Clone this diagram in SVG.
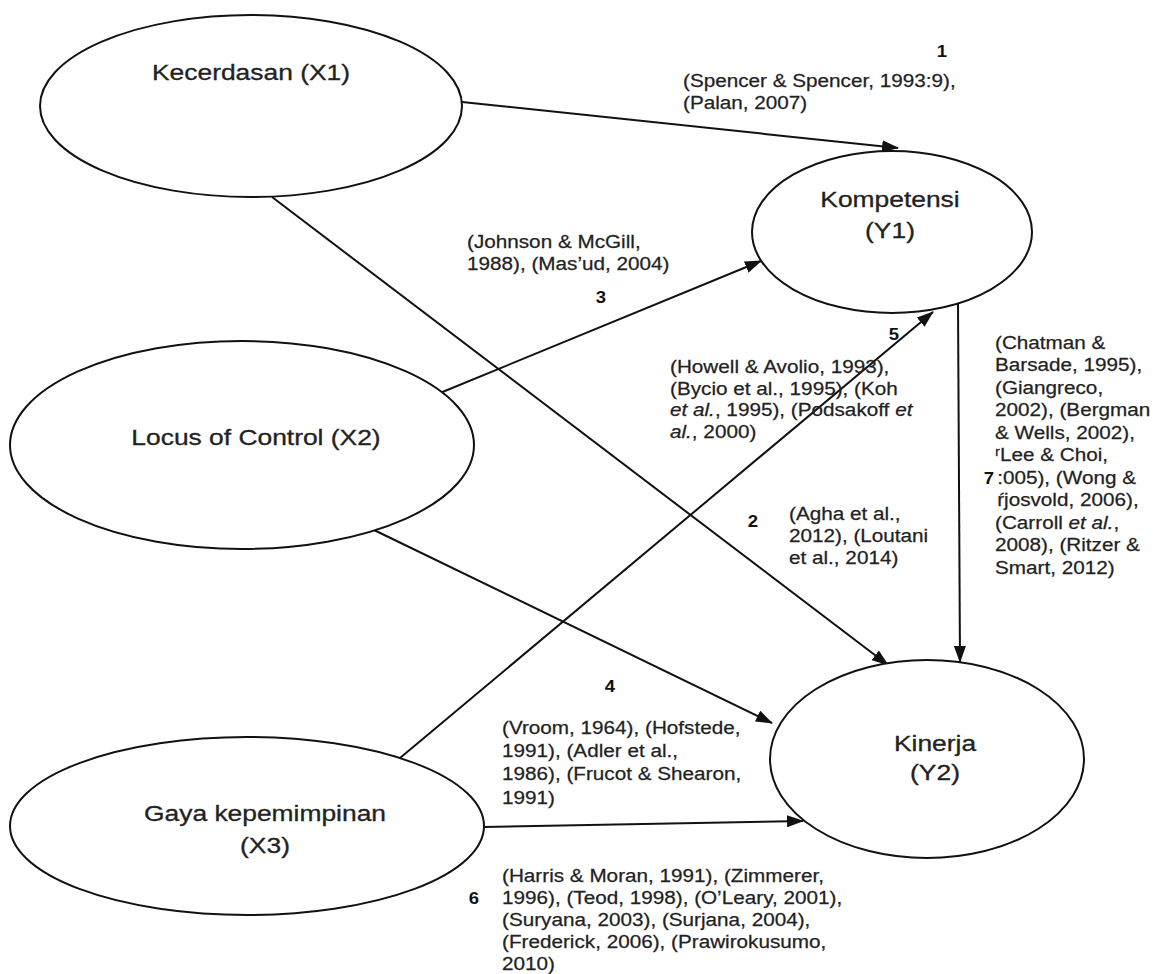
<svg xmlns="http://www.w3.org/2000/svg" width="1154" height="974" viewBox="0 0 1154 974">
<defs>
<style>
.node{fill:#fff;stroke:#111;stroke-width:2}
.lbl{font-family:"Liberation Sans",Arial,sans-serif;font-size:22px;fill:#222;stroke:#222;stroke-width:0.3}
.cit{font-family:"Liberation Sans",Arial,sans-serif;font-size:19px;fill:#222;stroke:#222;stroke-width:0.25}
.num{font-family:"Liberation Sans",Arial,sans-serif;font-size:17px;font-weight:bold;fill:#111}
.edge{stroke:#111;stroke-width:2;fill:none;marker-end:url(#ah)}
.it{font-style:italic}
</style>
<marker id="ah" markerWidth="17" markerHeight="12" refX="16" refY="6" orient="auto" markerUnits="userSpaceOnUse">
<path d="M0,0 L17,6 L0,12 z" fill="#111"/>
</marker>
</defs>
<rect width="1154" height="974" fill="#fff"/>

<g id="connectors">
<path class="edge" d="M462,102 L898,148"/>
<path class="edge" d="M272,197 L888,665"/>
<path class="edge" d="M440,393 L761,261"/>
<path class="edge" d="M374,530 L772,723"/>
<path class="edge" d="M400,758 L933,312"/>
<path class="edge" d="M484,827 L803,821"/>
<path class="edge" d="M958,304 L960,662"/>
</g>

<g id="kecerdasan">
<ellipse class="node" cx="251" cy="106" rx="211" ry="91"/>
<text class="lbl" text-anchor="middle" transform="translate(251,80) scale(1.2,1)">Kecerdasan (X1)</text>
</g>
<g id="kompetensi">
<ellipse class="node" cx="892" cy="232" rx="140" ry="81"/>
<text class="lbl" text-anchor="middle" transform="translate(890,207) scale(1.2,1)">Kompetensi</text>
<text class="lbl" text-anchor="middle" transform="translate(890,238) scale(1.2,1)">(Y1)</text>
</g>
<g id="locus">
<ellipse class="node" cx="242" cy="445" rx="232" ry="104"/>
<text class="lbl" text-anchor="middle" transform="translate(256,445) scale(1.2,1)">Locus of Control (X2)</text>
</g>
<g id="gaya">
<ellipse class="node" cx="247" cy="826" rx="237" ry="89"/>
<text class="lbl" text-anchor="middle" transform="translate(265,821) scale(1.2,1)">Gaya kepemimpinan</text>
<text class="lbl" text-anchor="middle" transform="translate(265,853) scale(1.2,1)">(X3)</text>
</g>
<g id="kinerja">
<ellipse class="node" cx="927" cy="759" rx="157" ry="99"/>
<text class="lbl" text-anchor="middle" transform="translate(935,751) scale(1.2,1)">Kinerja</text>
<text class="lbl" text-anchor="middle" transform="translate(935,780) scale(1.2,1)">(Y2)</text>
</g>

<g id="labels">
<text class="num" text-anchor="middle" transform="translate(942,57) scale(1.09,1)">1</text>
<text class="cit" transform="translate(683,87) scale(1.09,1)"><tspan x="0" y="0">(Spencer &amp; Spencer, 1993:9),</tspan><tspan x="0" y="22">(Palan, 2007)</tspan></text>

<text class="cit" transform="translate(467,248) scale(1.09,1)"><tspan x="0" y="0">(Johnson &amp; McGill,</tspan><tspan x="0" y="22">1988), (Mas’ud, 2004)</tspan></text>
<text class="num" text-anchor="middle" transform="translate(601,303) scale(1.09,1)">3</text>

<text class="num" text-anchor="middle" transform="translate(894,340) scale(1.09,1)">5</text>
<text class="cit" transform="translate(670,373) scale(1.09,1)"><tspan x="0" y="0">(Howell &amp; Avolio, 1993),</tspan><tspan x="0" y="22">(Bycio et al., 1995), (Koh</tspan><tspan x="0" y="43"><tspan class="it">et al.</tspan>, 1995), (Podsakoff <tspan class="it">et</tspan></tspan><tspan x="0" y="65"><tspan class="it">al.</tspan>, 2000)</tspan></text>

<text class="num" text-anchor="middle" transform="translate(753,527) scale(1.09,1)">2</text>
<text class="cit" transform="translate(789,520) scale(1.09,1)"><tspan x="0" y="0">(Agha et al.,</tspan><tspan x="0" y="22">2012), (Loutani</tspan><tspan x="0" y="44">et al., 2014)</tspan></text>

<text class="num" text-anchor="middle" transform="translate(989,484) scale(1.09,1)">7</text>
<text class="cit" transform="translate(995,349) scale(1.09,1)"><tspan x="0" y="0">(Chatman &amp;</tspan><tspan x="0" y="22.5">Barsade, 1995),</tspan><tspan x="0" y="45">(Giangreco,</tspan><tspan x="0" y="67.5">2002), (Bergman</tspan><tspan x="0" y="90">&amp; Wells, 2002),</tspan><tspan x="0" y="112.5">ʳLee &amp; Choi,</tspan><tspan x="2" y="135">:005), (Wong &amp;</tspan><tspan x="2" y="157.5">ŕjosvold, 2006),</tspan><tspan x="0" y="180">(Carroll <tspan class="it">et al.</tspan>,</tspan><tspan x="0" y="202.5">2008), (Ritzer &amp;</tspan><tspan x="0" y="225">Smart, 2012)</tspan></text>

<text class="num" text-anchor="middle" transform="translate(610,692) scale(1.09,1)">4</text>
<text class="cit" transform="translate(502,734) scale(1.09,1)"><tspan x="0" y="0">(Vroom, 1964), (Hofstede,</tspan><tspan x="0" y="23">1991), (Adler et al.,</tspan><tspan x="0" y="46">1986), (Frucot &amp; Shearon,</tspan><tspan x="0" y="70">1991)</tspan></text>

<text class="num" text-anchor="middle" transform="translate(474,904) scale(1.09,1)">6</text>
<text class="cit" transform="translate(502,882) scale(1.09,1)"><tspan x="0" y="0">(Harris &amp; Moran, 1991), (Zimmerer,</tspan><tspan x="0" y="22">1996), (Teod, 1998), (O’Leary, 2001),</tspan><tspan x="0" y="44">(Suryana, 2003), (Surjana, 2004),</tspan><tspan x="0" y="66">(Frederick, 2006), (Prawirokusumo,</tspan><tspan x="0" y="88">2010)</tspan></text>
</g>
</svg>
